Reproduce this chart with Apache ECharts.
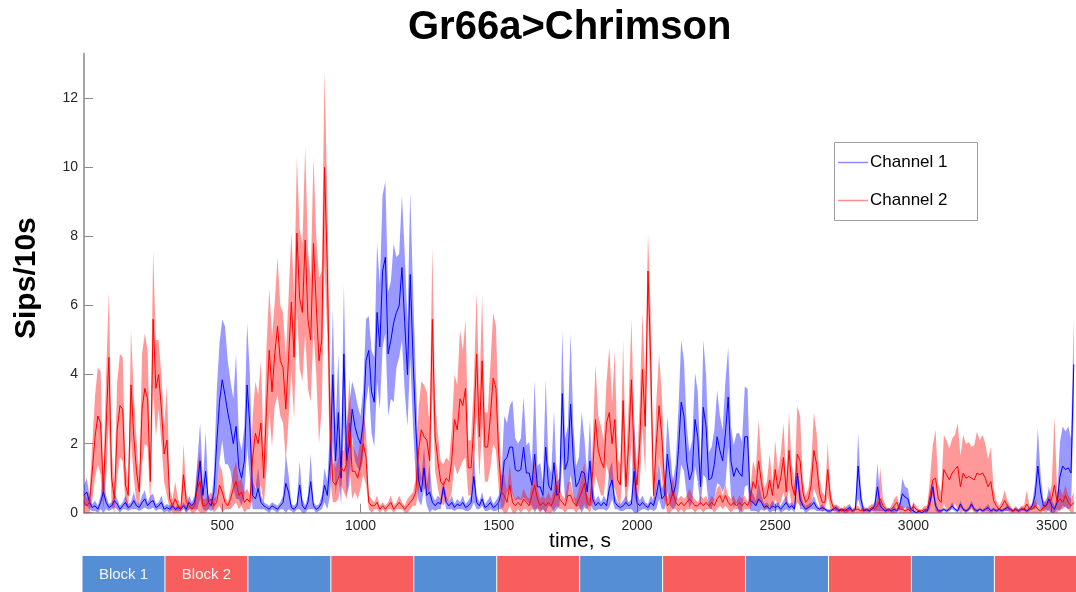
<!DOCTYPE html>
<html>
<head>
<meta charset="utf-8">
<title>Gr66a>Chrimson</title>
<script src="https://cdn.jsdelivr.net/npm/echarts@6/dist/echarts.min.js"></script>
<style>
  html, body { margin: 0; padding: 0; background: #fff; }
  #chart { width: 1076px; height: 592px; }
</style>
</head>
<body>
<div id="chart"></div>
<script>
// Sips per 10 s, sampled every 10 s from 0 to 3580 s (mean and SEM per channel)
const sampleStep = 10;

const ch1Mean = [
  0.5,0.6,0.3,0.15,0.2,0.1,0.3,0.6,0.3,0.15,
  0.2,0.35,0.25,0.1,0.2,0.3,0.15,0.2,0.35,0.2,
  0.15,0.3,0.4,0.2,0.3,0.35,0.15,0.2,0.3,0.1,
  0.15,0.1,0.2,0.1,0.15,0.1,0.2,0.1,0.3,0.2,
  0.3,0.8,1.5,0.5,1.2,0.3,0.2,0.6,2.0,3.2,
  3.85,3.4,2.9,2.5,2.0,2.5,1.3,1.0,1.5,3.7,
  2.5,0.5,0.4,0.7,0.3,0.2,0.15,0.1,0.2,0.15,
  0.1,0.2,0.3,0.85,0.6,0.15,0.1,0.2,0.8,0.2,
  0.1,0.3,0.9,0.2,0.1,0.15,0.3,0.8,0.5,1.5,
  4.0,1.5,2.9,1.0,4.6,1.5,2.0,3.0,2.5,2.2,
  2.0,2.6,4.4,4.7,3.5,3.2,5.8,4.8,7.0,7.4,
  4.6,5.0,5.5,5.8,6.0,7.1,5.5,4.0,6.9,4.5,
  2.5,0.95,0.6,1.3,0.5,0.6,0.3,0.2,0.3,0.25,
  0.75,0.3,0.2,0.3,0.15,0.25,0.2,0.3,0.15,0.2,
  0.3,1.05,0.3,0.2,0.4,0.15,0.2,0.3,0.15,0.2,
  0.3,0.6,1.5,1.6,1.9,1.9,1.25,1.2,1.25,1.9,
  1.15,1.15,0.8,1.7,0.75,0.75,0.5,1.9,0.8,0.65,
  1.45,0.5,0.6,3.45,1.25,1.5,3.15,1.5,0.75,0.9,
  1.2,1.15,0.6,1.5,0.4,0.2,0.3,0.2,0.3,0.2,
  0.7,0.95,0.3,0.2,0.15,0.2,0.3,0.2,0.25,1.2,
  0.3,0.2,0.3,0.2,0.15,0.3,0.2,0.5,0.95,0.4,
  0.5,1.7,1.0,0.5,0.8,1.8,3.2,2.8,1.5,0.95,
  1.2,2.7,2.2,0.75,3.05,2.5,0.95,1.0,1.4,2.2,
  1.8,1.5,2.3,3.35,1.5,1.05,1.3,1.15,1.05,2.2,
  2.2,0.35,0.3,0.2,0.4,0.3,0.15,0.2,0.1,0.2,
  0.15,0.2,0.1,0.2,0.3,0.15,0.2,0.1,1.15,0.4,
  0.2,0.1,0.15,0.2,0.3,0.15,0.1,0.15,0.1,0.05,
  0.05,0.1,0.15,0.05,0.1,0.05,0.1,0.15,0.05,0.1,
  1.35,0.4,0.05,0.1,0.05,0.1,0.2,0.75,0.2,0.1,
  0.05,0.1,0.05,0.1,0.05,0.2,0.55,0.45,0.4,0.1,
  0.05,0,0.05,0,0.05,0.05,0.3,0.75,0.2,0.05,
  0.05,0.1,0.05,0.1,0.2,0.1,0.05,0.25,0.1,0.05,
  0.1,0.25,0.1,0.05,0.1,0.05,0.1,0.15,0.05,0.1,
  0.05,0.1,0.05,0.1,0.15,0.1,0.05,0.1,0.05,0.1,
  0.1,0.05,0.1,0.2,0.5,1.35,0.6,0.2,0.2,0.4,
  0.2,0.1,0.3,1.05,1.35,1.25,1.3,1.15,4.3
];

const ch1Sem = [
  0.3,0.4,0.2,0.1,0.15,0.1,0.2,0.6,0.2,0.1,
  0.1,0.2,0.15,0.1,0.1,0.2,0.1,0.1,0.25,0.1,
  0.1,0.2,0.25,0.1,0.2,0.2,0.1,0.1,0.2,0.1,
  0.1,0.1,0.1,0.05,0.1,0.05,0.1,0.1,0.2,0.1,
  0.2,0.7,1.1,0.4,1.15,0.2,0.15,0.5,1.5,1.7,
  1.75,2.0,1.5,1.3,1.3,2.1,0.9,0.8,1.0,1.8,
  1.5,0.4,0.3,0.6,0.2,0.1,0.1,0.1,0.1,0.1,
  0.1,0.1,0.2,0.85,0.5,0.1,0.1,0.1,0.7,0.2,
  0.1,0.2,0.8,0.1,0.1,0.1,0.2,0.5,0.4,1.0,
  1.9,1.0,1.7,0.8,2.0,1.0,1.2,0.8,1.0,0.9,
  0.8,1.0,1.2,1.0,1.2,1.3,2.0,1.8,2.2,2.2,
  1.8,1.7,2.3,1.6,1.5,2.1,2.0,1.5,2.4,2.0,
  1.5,0.6,0.4,0.6,0.3,0.8,0.2,0.15,0.2,0.15,
  0.2,0.2,0.1,0.2,0.1,0.15,0.1,0.2,0.1,0.15,
  0.2,0.75,0.2,0.1,0.2,0.1,0.15,0.2,0.1,0.15,
  0.2,0.5,1.3,1.0,1.2,1.35,0.9,0.8,0.9,1.45,
  0.8,0.9,0.6,2.15,0.6,0.7,0.4,1.95,0.6,0.5,
  1.5,0.4,0.4,1.85,0.9,1.0,2.05,1.0,0.6,0.7,
  1.7,1.0,0.5,1.2,0.3,0.15,0.2,0.1,0.2,0.15,
  0.55,0.55,0.2,0.1,0.1,0.15,0.2,0.1,0.15,1.6,
  0.3,0.15,0.2,0.1,0.1,0.2,0.15,0.4,0.55,0.3,
  0.4,1.1,0.8,0.4,0.6,1.2,1.8,1.6,1.0,0.8,
  0.9,1.35,1.3,0.6,1.95,1.5,0.8,0.9,1.0,1.35,
  1.0,0.9,1.5,1.45,1.0,0.9,1.0,1.15,1.0,1.45,
  1.4,0.3,0.25,0.15,0.5,0.2,0.1,0.1,0.1,0.15,
  0.1,0.1,0.1,0.15,0.2,0.1,0.1,0.1,0.25,0.3,
  0.1,0.1,0.1,0.1,0.2,0.1,0.05,0.1,0.05,0.05,
  0.05,0.05,0.1,0.05,0.05,0.05,0.1,0.1,0.05,0.05,
  0.95,0.3,0.05,0.05,0.05,0.05,0.15,0.7,0.15,0.05,
  0.05,0.05,0.05,0.1,0.05,0.1,0.45,0.3,0.3,0.1,
  0.05,0,0.05,0,0.05,0.05,0.2,0.2,0.15,0.05,
  0.05,0.05,0.05,0.05,0.1,0.05,0.05,0.1,0.05,0.05,
  0.05,0.1,0.05,0.05,0.05,0.05,0.05,0.1,0.05,0.05,
  0.05,0.05,0.05,0.05,0.1,0.05,0.05,0.05,0.05,0.05,
  0.05,0.05,0.05,0.1,0.4,1.1,0.5,0.15,0.1,0.35,
  0.2,0.1,0.2,1.0,1.15,1.1,1.2,1.0,1.3
];

const ch2Mean = [
  0.3,0.2,0.3,1.2,2.2,2.8,2.6,0.6,2.5,4.5,
  1.0,0.4,2.4,3.1,3.0,0.8,0.5,3.7,2.2,1.2,
  0.6,3.0,3.6,3.3,0.9,5.6,3.6,4.0,3.0,1.7,
  2.1,0.4,0.2,0.4,0.2,0.1,1.1,0.3,0.2,0.1,
  0.2,0.7,0.9,0.2,0.2,0.3,0.4,0.2,0.3,0.8,
  0.6,0.3,0.2,0.4,0.7,0.9,0.5,0.6,0.3,0.4,
  0.3,1.6,2.3,2.0,2.6,1.0,3.0,4.7,3.5,4.6,
  5.4,4.4,4.2,3.0,4.5,6.1,4.5,8.1,6.2,5.8,
  7.9,5.6,5.0,7.8,6.0,4.4,5.0,10.0,7.1,2.5,
  0.9,0.8,1.0,1.3,1.2,1.4,2.6,1.2,1.2,1.0,
  1.4,2.0,1.6,0.3,0.2,0.2,0.3,0.1,0.2,0.1,
  0.2,0.3,0.1,0.2,0.3,0.2,0.1,0.2,0.3,0.4,
  0.6,1.8,2.4,2.2,2.1,1.5,5.6,2.2,1.5,0.9,
  0.8,1.0,0.9,1.5,2.7,2.4,3.3,3.1,3.6,1.3,
  1.3,2.5,4.6,2.2,4.4,1.9,1.9,2.8,3.9,3.6,
  1.7,0.6,0.5,0.3,0.8,0.3,0.2,0.3,0.2,0.4,
  0.3,0.2,0.5,0.8,0.4,0.2,0.3,0.2,0.3,0.2,
  0.4,0.8,0.4,0.3,0.2,0.5,0.5,0.3,0.2,0.4,
  0.6,0.85,0.3,0.2,1.2,2.7,1.8,1.5,1.3,2.6,
  2.9,2.0,2.7,0.95,0.8,3.25,0.75,2.0,3.85,1.5,
  0.8,2.0,4.15,2.5,7.0,4.3,0.5,2.0,3.1,2.2,
  0.8,0.2,0.3,0.6,0.3,0.2,0.3,0.2,0.3,0.4,
  0.3,0.2,0.2,0.3,0.2,0.3,0.2,0.3,0.2,0.4,
  0.5,0.3,0.5,0.3,0.2,0.3,0.2,0.3,0.2,0.3,
  0.2,0.4,0.9,0.7,1.5,0.9,0.4,0.5,0.95,0.5,
  1.25,0.7,1.0,1.6,0.6,1.8,0.8,0.5,1.7,1.5,
  0.6,0.3,0.4,0.8,1.8,1.4,0.6,0.3,0.3,1.25,
  0.4,0.15,0.1,0.1,0.05,0.1,0.05,0.1,0.05,0.1,
  0.1,0.05,0.1,0.05,0.1,0.15,0.1,0.2,0.4,0.2,
  0.1,0.05,0.1,0.2,0.3,0.1,0.1,0.05,0.1,0.05,
  0.2,0.1,0.05,0.05,0.1,0.1,0.5,0.95,1.0,0.4,
  0.3,1.25,1.1,0.95,1.15,1.25,1.35,0.75,1.15,1.0,
  1.05,1.0,0.95,1.15,1.1,1.15,1.0,0.75,0.9,0.35,
  0.2,0.1,0.2,0.35,0.2,0.1,0.05,0.1,0.05,0.1,
  0.1,0.25,0.1,0.1,0.2,0.1,0.05,0.15,0.2,0.3,
  0.4,0.8,0.3,0.4,0.3,0.5,0.3,0.2,0.3
];

const ch2Sem = [
  0.3,0.2,0.3,0.8,1.2,1.4,1.5,0.5,1.5,1.9,
  0.8,0.4,1.4,1.5,1.5,0.6,0.4,1.6,1.2,0.9,
  0.4,1.6,1.6,1.4,0.7,2.0,1.4,1.0,1.0,0.8,
  1.6,0.3,0.2,0.5,0.2,0.1,0.9,0.3,0.1,0.1,
  0.2,0.6,0.9,0.2,0.2,0.2,0.2,0.2,0.2,0.6,
  0.6,0.2,0.1,0.3,0.5,0.6,0.4,0.4,0.3,0.3,
  0.2,1.2,1.5,1.4,1.8,0.8,1.8,1.8,1.6,1.5,
  2.0,1.6,1.6,1.5,1.8,2.0,1.8,2.2,2.0,2.0,
  2.7,2.0,1.8,2.5,2.0,2.4,2.0,2.8,2.0,1.5,
  0.6,0.5,0.6,0.5,0.6,1.0,1.3,0.8,0.6,0.6,
  0.7,0.9,0.8,0.2,0.2,0.1,0.2,0.1,0.1,0.1,
  0.1,0.2,0.1,0.1,0.2,0.1,0.1,0.2,0.2,0.2,
  0.4,1.2,1.4,1.5,1.4,1.0,2.1,1.0,0.8,0.6,
  0.6,0.6,0.6,0.9,1.3,1.3,2.0,1.6,2.0,0.8,
  0.8,1.3,1.8,1.2,1.9,1.0,1.0,1.5,1.9,1.8,
  1.0,0.5,0.6,0.3,0.6,0.3,0.2,0.2,0.2,0.3,
  0.2,0.2,0.4,0.7,0.3,0.2,0.2,0.2,0.3,0.2,
  0.3,0.6,0.3,0.2,0.2,0.4,0.4,0.2,0.2,0.3,
  0.5,0.6,0.2,0.2,0.9,1.6,1.0,1.0,0.8,1.2,
  1.9,1.2,2.0,0.6,0.6,1.75,0.6,1.2,1.75,1.0,
  0.6,1.2,1.65,1.4,1.1,1.5,0.4,1.2,1.5,1.2,
  0.5,0.2,0.3,0.5,0.2,0.2,0.2,0.2,0.2,0.3,
  0.2,0.2,0.1,0.2,0.2,0.2,0.1,0.2,0.2,0.3,
  0.3,0.2,0.3,0.2,0.2,0.2,0.1,0.2,0.2,0.2,
  0.1,0.3,0.6,0.5,1.2,0.6,0.3,0.4,0.75,0.4,
  0.85,0.5,0.7,1.0,0.4,1.1,0.6,0.4,1.4,1.3,
  0.4,0.2,0.3,0.6,1.1,0.9,0.4,0.3,0.2,0.75,
  0.3,0.1,0.1,0.1,0.05,0.1,0.05,0.1,0.05,0.1,
  0.1,0.05,0.1,0.05,0.1,0.1,0.1,0.2,0.9,0.2,
  0.1,0.05,0.1,0.2,0.2,0.1,0.1,0.05,0.1,0.05,
  0.1,0.1,0.05,0.05,0.1,0.1,0.5,1.0,1.4,0.4,
  0.3,1.0,1.0,0.9,1.0,1.0,1.25,0.9,1.1,1.0,
  1.0,0.9,1.0,1.2,1.0,1.1,1.0,0.8,1.0,0.35,
  0.15,0.1,0.15,0.3,0.15,0.1,0.05,0.1,0.05,0.1,
  0.1,0.4,0.1,0.1,0.2,0.1,0.05,0.1,0.2,0.2,
  0.4,2.0,0.3,0.3,0.2,0.3,0.2,0.2,0.3
];

// Stimulation blocks along the time axis (seconds)
const blockEdges = [0,300,600,900,1200,1500,1800,2100,2400,2700,3000,3300,3600];
const blockNames = ['Block 1','Block 2','','','','','','','','','',''];
const blockChannel = [1,2,1,2,1,2,1,2,1,2,1,2];

const xTicks = [500,1000,1500,2000,2500,3000,3500];
const yTicks = [0,2,4,6,8,10,12];
const legendNames = ['Channel 1', 'Channel 2'];

const FONT = '"Liberation Sans", Arial, Helvetica, sans-serif';
const X_MAX = 3588;
const Y_MAX = 13.3;

const blockColors = { 1: '#558ed5', 2: '#f95e5e' };

function seriesPoints(values) {
  return values.map((v, i) => [i * sampleStep, v]);
}
function bandPoints(mean, sem) {
  return mean.map((m, i) => [i * sampleStep, Math.max(0, m - sem[i]), m + sem[i]]);
}

// Shaded mean ± SEM band drawn as one polygon through the axis scales
function bandSeries(name, mean, sem, fill, z) {
  const pts = bandPoints(mean, sem);
  return {
    name: name,
    type: 'custom',
    silent: true,
    z: z,
    encode: { x: 0, y: [1, 2] },
    data: pts,
    renderItem: function (params, api) {
      if (params.dataIndex !== 0) return null;
      const upper = pts.map(p => api.coord([p[0], p[2]]));
      const lower = pts.map(p => api.coord([p[0], p[1]])).reverse();
      return {
        type: 'polygon',
        shape: { points: upper.concat(lower) },
        style: { fill: fill, stroke: null }
      };
    }
  };
}

const blockData = blockNames.map((name, i) => [blockEdges[i], blockEdges[i + 1], blockChannel[i]]);

const chart = echarts.init(document.getElementById('chart'), null, { renderer: 'canvas' });

chart.setOption({
  animation: false,
  backgroundColor: '#ffffff',
  title: {
    text: 'Gr66a>Chrimson',
    left: 403,
    top: 3,
    textStyle: { fontFamily: FONT, fontSize: 40, fontWeight: 'bold', color: '#000' }
  },
  grid: [
    { left: 84, right: 0, top: 53.5, height: 459.2, containLabel: false },
    { left: 84, right: 0, top: 556, height: 40, containLabel: false }
  ],
  xAxis: [
    {
      type: 'value',
      gridIndex: 0,
      min: 0,
      max: X_MAX,
      name: 'time, s',
      nameLocation: 'middle',
      nameGap: 18,
      nameMoveOverlap: false,
      nameTextStyle: { fontFamily: FONT, fontSize: 21, color: '#000' },
      axisLine: { show: true, onZero: false, lineStyle: { color: '#8a8a8a', width: 1.5 } },
      axisTick: { show: true, inside: true, length: 9, customValues: xTicks, lineStyle: { color: '#8a8a8a' } },
      axisLabel: {
        customValues: xTicks, margin: 6, fontFamily: FONT, fontSize: 14, color: '#262626',
        formatter: v => String(v)
      },
      splitLine: { show: false }
    },
    { type: 'value', gridIndex: 1, min: 0, max: X_MAX, show: false }
  ],
  yAxis: [
    {
      type: 'value',
      gridIndex: 0,
      min: 0,
      max: Y_MAX,
      name: 'Sips/10s',
      nameLocation: 'middle',
      nameGap: 42,
      nameRotate: 90,
      nameTextStyle: { fontFamily: FONT, fontSize: 30, fontWeight: 'bold', color: '#000', padding: [0, 0, 0, 10] },
      axisLine: { show: true, lineStyle: { color: '#8a8a8a', width: 1.5 } },
      axisTick: { show: true, inside: true, length: 9, customValues: yTicks, lineStyle: { color: '#8a8a8a' } },
      axisLabel: { customValues: yTicks, margin: 6, fontFamily: FONT, fontSize: 14, color: '#262626' },
      splitLine: { show: false }
    },
    { type: 'value', gridIndex: 1, min: 0, max: 1, show: false }
  ],
  graphic: [
    {
      type: 'group',
      left: 834,
      top: 142,
      z: 100,
      children: [
        { type: 'rect', shape: { x: 0.5, y: 0.5, width: 143, height: 78 },
          style: { fill: '#ffffff', stroke: '#a0a0a0', lineWidth: 1 } },
        { type: 'line', shape: { x1: 4, y1: 20.5, x2: 34, y2: 20.5 },
          style: { stroke: '#8c8cff', lineWidth: 1.5 } },
        { type: 'text', style: { text: legendNames[0], x: 36, y: 20.5, verticalAlign: 'middle',
          font: '17px ' + FONT, fill: '#000' } },
        { type: 'line', shape: { x1: 4, y1: 58.5, x2: 34, y2: 58.5 },
          style: { stroke: '#ff8c8c', lineWidth: 1.5 } },
        { type: 'text', style: { text: legendNames[1], x: 36, y: 58.5, verticalAlign: 'middle',
          font: '17px ' + FONT, fill: '#000' } }
      ]
    }
  ],
  series: [
    bandSeries('ch1 band', ch1Mean, ch1Sem, 'rgba(0,0,255,0.4)', 1),
    bandSeries('ch2 band', ch2Mean, ch2Sem, 'rgba(255,0,0,0.4)', 2),
    {
      name: legendNames[0], type: 'line', symbol: 'none', showSymbol: false,
      lineStyle: { color: '#0000ff', width: 1 },
      data: seriesPoints(ch1Mean), z: 3
    },
    {
      name: legendNames[1], type: 'line', symbol: 'none', showSymbol: false,
      lineStyle: { color: '#ff0000', width: 1 },
      data: seriesPoints(ch2Mean), z: 3
    },
    {
      name: 'blocks', type: 'custom', xAxisIndex: 1, yAxisIndex: 1, silent: true,
      encode: { x: [0, 1] },
      data: blockData,
      renderItem: function (params, api) {
        const cs = params.coordSys;
        const start = api.coord([api.value(0), 1]);
        const end = api.coord([api.value(1), 0]);
        const x0 = start[0] - 1.5;
        const x1 = Math.min(end[0] - 2.5, cs.x + cs.width);
        const label = blockNames[params.dataIndex];
        const children = [{
          type: 'rect',
          shape: { x: x0, y: start[1], width: x1 - x0, height: end[1] - start[1] },
          style: { fill: blockColors[api.value(2)] }
        }];
        if (label) {
          children.push({
            type: 'text',
            style: {
              text: label, x: (x0 + x1) / 2, y: start[1] + 19,
              align: 'center', verticalAlign: 'middle',
              fill: '#f4f4f4', font: '15px ' + FONT
            }
          });
        }
        return { type: 'group', children: children };
      }
    }
  ]
});
</script>
</body>
</html>
